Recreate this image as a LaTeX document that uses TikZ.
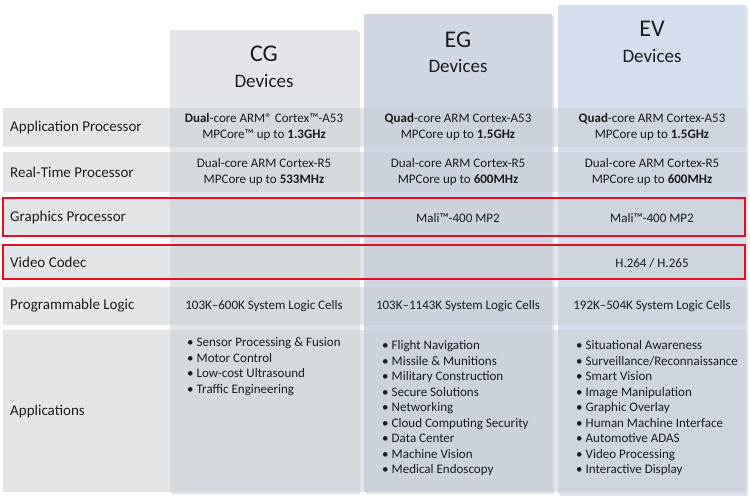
\documentclass[tikz,border=0pt]{standalone}
\usepackage{fontspec}
\setmainfont{Carlito}
\usetikzlibrary{positioning}
\definecolor{rowgray}{RGB}{200,206,212}
\definecolor{cgcol}{RGB}{226,229,234}
\definecolor{egcol}{RGB}{208,215,227}
\definecolor{evcol}{RGB}{213,222,236}
\definecolor{txtdark}{RGB}{28,28,30}
\definecolor{hlred}{RGB}{226,16,32}
\tikzset{
    colshadow/.style={fill=black, opacity=0.10},
    band/.style={fill=rowgray, fill opacity=0.5},
    rowlabel/.style={anchor=west, inner sep=0pt, font=\fontsize{15}{18}\selectfont, text=txtdark},
    cell/.style={align=center, inner sep=0pt, font=\fontsize{13}{16}\selectfont, text=txtdark},
    applist/.style={anchor=north west, align=left, inner sep=0pt, font=\fontsize{13}{15.5}\selectfont, text=txtdark},
    devname/.style={font=\fontsize{24}{28}\selectfont, text=txtdark},
    devsub/.style={font=\fontsize{19}{22}\selectfont, text=txtdark},
    highlight/.style={draw=hlred, line width=1.3pt}
}
\newcommand{\bul}{\makebox[9.5pt][l]{•}}

\begin{document}
\begin{tikzpicture}[x=1pt, y=-1pt]
    \useasboundingbox (0,0) rectangle (750,496);
    % colonne dei dispositivi
    \fill[colshadow] (172,31.5) rectangle (360,494);
    \fill[colshadow] (366,16) rectangle (554,494);
    \fill[colshadow] (560,7) rectangle (748,496);
    \fill[cgcol] (170,29.5) rectangle (358,492);
    \fill[egcol] (364,14) rectangle (552,492);
    \fill[evcol] (558,5) rectangle (746,494);

    % righe
    \fill[band] (3,108) rectangle (746,146.5);
    \fill[band] (3,151.5) rectangle (746,192);
    \fill[band] (3,198) rectangle (746,236);
    \fill[band] (3,245) rectangle (746,279);
    \fill[band] (3,287) rectangle (746,325);
    \fill[band] (3,330) rectangle (746,492);

    \node[devname] (cgname) at (264,54) {CG};
    \node[devsub, below=5.5pt of cgname] (cgsub) {Devices};
    \node[devname] (egname) at (458,40) {EG};
    \node[devsub, below=4.5pt of egname] (egsub) {Devices};
    \node[devname] (evname) at (652,29) {EV};
    \node[devsub, below=5.5pt of evname] (evsub) {Devices};

    \node[rowlabel] (lapp) at (10,127) {Application Processor};
    \node[rowlabel] (lrt) at (10,172) {Real-Time Processor};
    \node[rowlabel] (lgfx) at (10,217) {Graphics Processor};
    \node[rowlabel] (lvid) at (10,262) {Video Codec};
    \node[rowlabel] (lpl) at (10,306) {Programmable Logic};
    \node[rowlabel] (lapps) at (10,411) {Applications};

    \node[cell] (cgapp) at (264,127) {\textbf{Dual}-core ARM® Cortex™-A53\\MPCore™ up to \textbf{1.3GHz}};
    \node[cell] (egapp) at (458,127) {\textbf{Quad}-core ARM Cortex-A53\\MPCore up to \textbf{1.5GHz}};
    \node[cell] (evapp) at (652,127) {\textbf{Quad}-core ARM Cortex-A53\\MPCore up to \textbf{1.5GHz}};

    \node[cell] (cgrt) at (264,172) {Dual-core ARM Cortex-R5\\MPCore up to \textbf{533MHz}};
    \node[cell] (egrt) at (458,172) {Dual-core ARM Cortex-R5\\MPCore up to \textbf{600MHz}};
    \node[cell] (evrt) at (652,172) {Dual-core ARM Cortex-R5\\MPCore up to \textbf{600MHz}};

    \node[cell] (eggfx) at (458,218) {Mali™-400 MP2};
    \node[cell] (evgfx) at (652,218) {Mali™-400 MP2};
    \node[cell] (evvid) at (652,263) {H.264 / H.265};

    \node[cell] (cgpl) at (264,306) {103K–600K System Logic Cells};
    \node[cell] (egpl) at (458,306) {103K–1143K System Logic Cells};
    \node[cell] (evpl) at (652,306) {192K–504K System Logic Cells};

    \node[applist] (cgapps) at (187,337.5) {\bul Sensor Processing \& Fusion\\ \bul Motor Control\\ \bul Low-cost Ultrasound\\ \bul Traffic Engineering};
    \node[applist] (egapps) at (382,340.5) {\bul Flight Navigation\\ \bul Missile \& Munitions\\ \bul Military Construction\\ \bul Secure Solutions\\ \bul Networking\\ \bul Cloud Computing Security\\ \bul Data Center\\ \bul Machine Vision\\ \bul Medical Endoscopy};
    \node[applist] (evapps) at (576,340.5) {\bul Situational Awareness\\ \bul Surveillance/Reconnaissance\\ \bul Smart Vision\\ \bul Image Manipulation\\ \bul Graphic Overlay\\ \bul Human Machine Interface\\ \bul Automotive ADAS\\ \bul Video Processing\\ \bul Interactive Display};

    \draw[highlight] (3,198) rectangle (745,236);
    \draw[highlight] (3,245) rectangle (745,279);
\end{tikzpicture}
\end{document}
